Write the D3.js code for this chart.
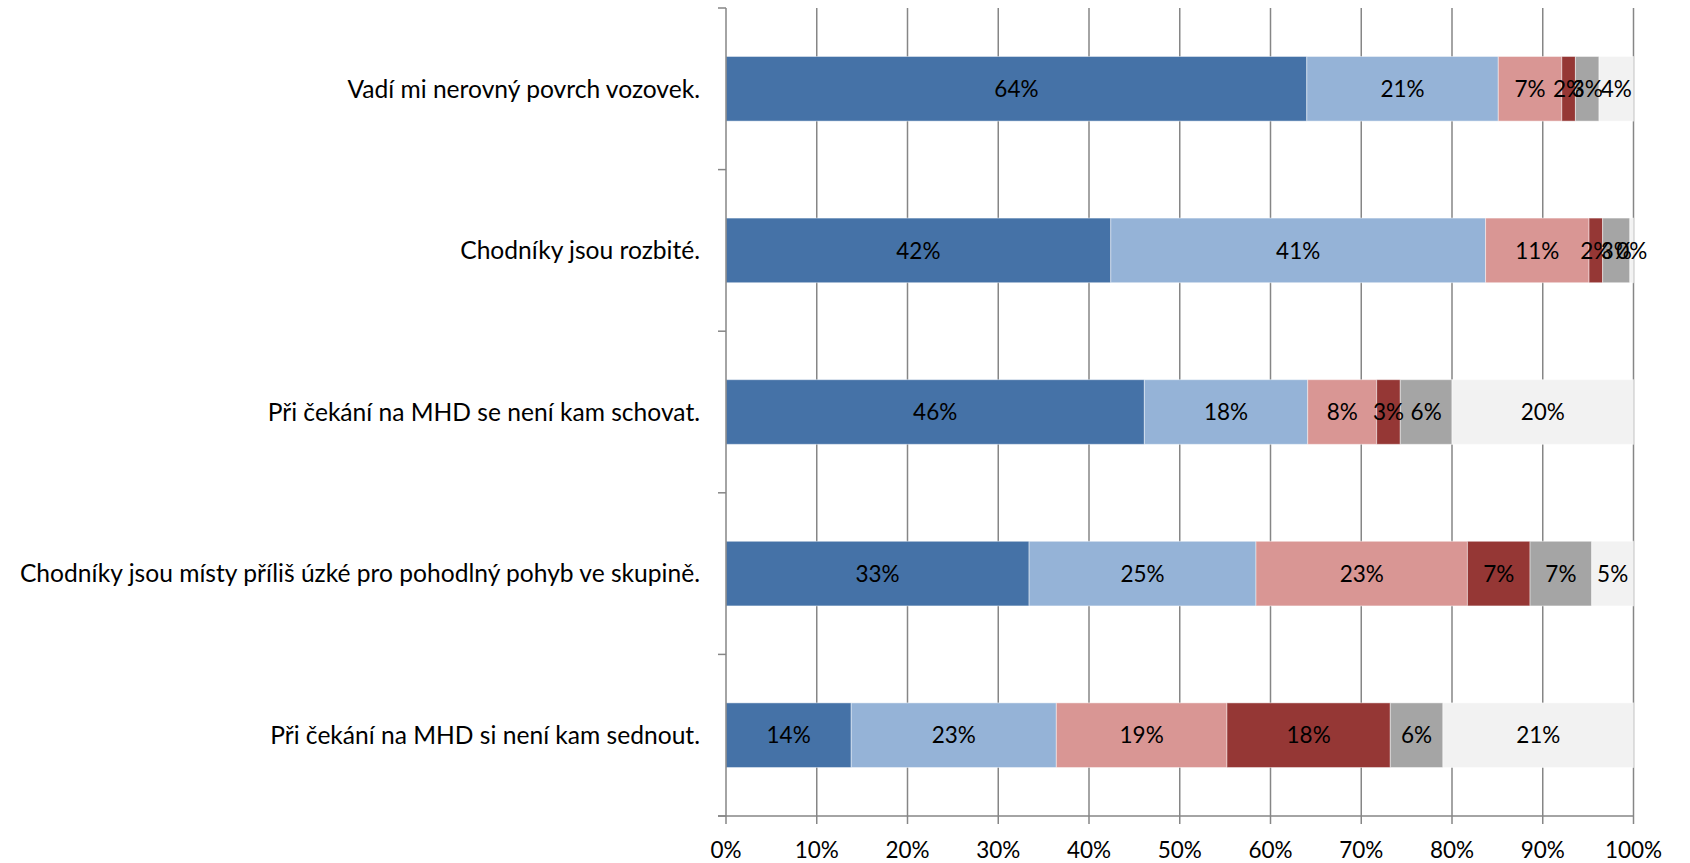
<!DOCTYPE html>
<html><head><meta charset="utf-8">
<script src="https://cdn.jsdelivr.net/npm/d3@7"></script>
<style>body{margin:0;background:#fff}svg{display:block}text{font-family:Lato,"Open Sans",sans-serif;fill:#000}</style>
</head><body><svg id="c" width="1690" height="863"></svg>
<script>
const categories = [
  "Vadí mi nerovný povrch vozovek.",
  "Chodníky jsou rozbité.",
  "Při čekání na MHD se není kam schovat.",
  "Chodníky jsou místy příliš úzké pro pohodlný pohyb ve skupině.",
  "Při čekání na MHD si není kam sednout."
];
const s1 = [64.0, 42.4, 46.1, 33.4, 13.8];
const s2 = [21.1, 41.3, 18.0, 25.0, 22.6];
const s3 = [7.0, 11.4, 7.6, 23.3, 18.8];
const s4 = [1.5, 1.5, 2.6, 6.9, 18.0];
const s5 = [2.6, 3.0, 5.7, 6.8, 5.8];
const s6 = [3.8, 0.4, 20.0, 4.6, 21.0];
const seriesColors = ["#4572a7", "#95b3d7", "#d99694", "#953735", "#a5a5a5", "#f2f2f2"];
const xTicks = [0,10,20,30,40,50,60,70,80,90,100];

const series = [s1,s2,s3,s4,s5,s6];
const svg = d3.select("#c");
const L = 726, R = 1633.5, T = 8, B = 816;
const x = d3.scaleLinear().domain([0,100]).range([L,R]);
const y = d3.scaleBand().domain(categories).range([T,B]).paddingInner(0.6).paddingOuter(0.3);
const band = d3.scaleBand().domain(categories).range([T,B]);
const grid = "#868686";

svg.append("g").selectAll("line").data(xTicks.slice(1)).join("line")
  .attr("x1", d=>x(d)).attr("x2", d=>x(d)).attr("y1", T).attr("y2", B)
  .attr("stroke", grid).attr("stroke-width", 1.5);

const stack = categories.map((c,i)=>{
  let acc = 0;
  return series.map((s,k)=>{ const o={cat:c,k,v:s[i],x0:acc,x1:acc+s[i]}; acc+=s[i]; return o;});
}).flat();
const g = svg.append("g");
g.selectAll("rect").data(stack).join("rect")
  .attr("x", d=>x(d.x0)).attr("width", d=>x(d.x1)-x(d.x0))
  .attr("y", d=>y(d.cat)).attr("height", y.bandwidth())
  .attr("fill", d=>seriesColors[d.k])
  .attr("stroke", "rgba(255,255,255,0.45)").attr("stroke-width", 1);
g.selectAll("text").data(stack).join("text")
  .attr("x", d=>(x(d.x0)+x(d.x1))/2).attr("y", d=>y(d.cat)+y.bandwidth()/2)
  .attr("dy", "0.36em").attr("text-anchor","middle").attr("font-size", 22.5)
  .text(d=>Math.round(d.v)+"%");

svg.append("line").attr("x1",L).attr("x2",L).attr("y1",T).attr("y2",B).attr("stroke",grid).attr("stroke-width",1.5);
const yt = categories.map(c=>band(c)).concat([B]);
svg.append("g").selectAll("line").data(yt).join("line")
  .attr("x1",L-8).attr("x2",L).attr("y1",d=>d).attr("y2",d=>d).attr("stroke",grid).attr("stroke-width",1.5);
svg.append("g").selectAll("text").data(categories).join("text")
  .attr("x", 700).attr("y", c=>y(c)+y.bandwidth()/2).attr("dy","0.36em")
  .attr("text-anchor","end").attr("font-size",24.6).text(c=>c);

svg.append("line").attr("x1",L-8).attr("x2",R).attr("y1",B).attr("y2",B).attr("stroke",grid).attr("stroke-width",1.5);
svg.append("g").selectAll("line").data(xTicks).join("line")
  .attr("x1",d=>x(d)).attr("x2",d=>x(d)).attr("y1",B).attr("y2",B+8).attr("stroke",grid).attr("stroke-width",1.5);
svg.append("g").selectAll("text").data(xTicks).join("text")
  .attr("x",d=>x(d)).attr("y",858).attr("text-anchor","middle").attr("font-size",22.5).text(d=>d+"%");
</script></body></html>
